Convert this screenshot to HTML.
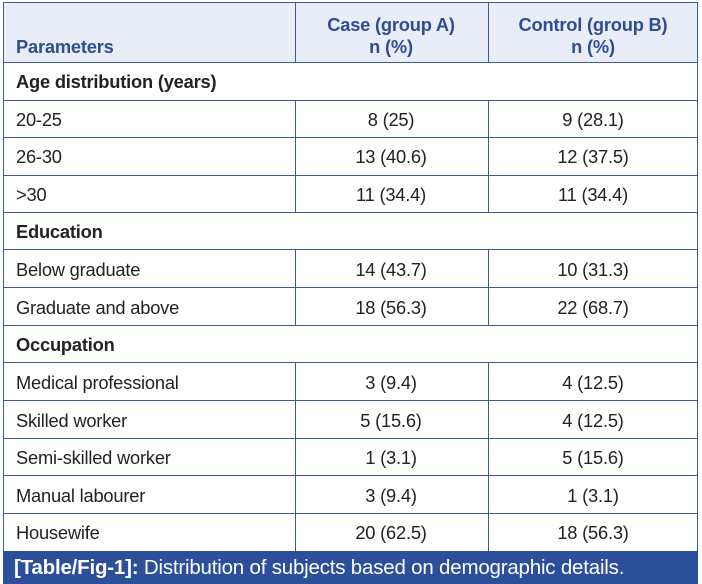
<!DOCTYPE html>
<html><head><meta charset="utf-8"><style>
body{margin:0;width:702px;height:584px;background:#fff;font-family:"Liberation Sans",sans-serif;overflow:hidden;position:relative}
.h{position:absolute;left:3px;top:2px;width:695px;height:60px;background:#e9edf7}
.hl{position:absolute;height:1px;background:#3c5a96;left:3px;width:695px}
.vl{position:absolute;width:1px;background:#3c5a96}
.t{position:absolute;font-size:18.3px;color:#222;white-space:nowrap;letter-spacing:-0.2px;margin-top:-1px}
.c{text-align:center;width:200px}
.b{font-weight:bold}
.hd{color:#2e4d92;font-weight:bold}
.cap{position:absolute;left:3px;top:551px;width:695px;height:33px;background:#2b4f9a;color:#fff;font-size:20.5px;line-height:33px;padding-left:11px;box-sizing:border-box;white-space:nowrap;letter-spacing:-0.2px}
</style></head><body>
<div class="h"></div>
<div class="hl" style="top:2px"></div>
<div class="hl" style="top:62px"></div>
<div class="hl" style="top:100px"></div>
<div class="hl" style="top:137px"></div>
<div class="hl" style="top:175px"></div>
<div class="hl" style="top:212px"></div>
<div class="hl" style="top:249px"></div>
<div class="hl" style="top:287px"></div>
<div class="hl" style="top:325px"></div>
<div class="hl" style="top:362px"></div>
<div class="hl" style="top:400px"></div>
<div class="hl" style="top:438px"></div>
<div class="hl" style="top:475px"></div>
<div class="hl" style="top:513px"></div>
<div class="vl" style="left:3px;top:2px;height:549px"></div>
<div class="vl" style="left:697px;top:2px;height:549px"></div>
<div class="vl" style="left:295px;top:2px;height:60px"></div>
<div class="vl" style="left:488px;top:2px;height:60px"></div>
<div class="vl" style="left:295px;top:100px;height:112px"></div>
<div class="vl" style="left:488px;top:100px;height:112px"></div>
<div class="vl" style="left:295px;top:249px;height:76px"></div>
<div class="vl" style="left:488px;top:249px;height:76px"></div>
<div class="vl" style="left:295px;top:362px;height:189px"></div>
<div class="vl" style="left:488px;top:362px;height:189px"></div>

<div class="t hd" style="left:16px;top:37px">Parameters</div>
<div class="t hd c" style="left:291px;top:15px">Case (group A)</div>
<div class="t hd c" style="left:291px;top:37px">n (%)</div>
<div class="t hd c" style="left:493px;top:15px">Control (group B)</div>
<div class="t hd c" style="left:493px;top:37px">n (%)</div>

<div class="t b" style="left:16px;top:72px">Age distribution (years)</div>
<div class="t" style="left:16px;top:110px">20-25</div><div class="t c" style="left:291px;top:110px">8 (25)</div><div class="t c" style="left:493px;top:110px">9 (28.1)</div>
<div class="t" style="left:16px;top:147px">26-30</div><div class="t c" style="left:291px;top:147px">13 (40.6)</div><div class="t c" style="left:493px;top:147px">12 (37.5)</div>
<div class="t" style="left:16px;top:185px">&gt;30</div><div class="t c" style="left:291px;top:185px">11 (34.4)</div><div class="t c" style="left:493px;top:185px">11 (34.4)</div>
<div class="t b" style="left:16px;top:222px">Education</div>
<div class="t" style="left:16px;top:260px">Below graduate</div><div class="t c" style="left:291px;top:260px">14 (43.7)</div><div class="t c" style="left:493px;top:260px">10 (31.3)</div>
<div class="t" style="left:16px;top:298px">Graduate and above</div><div class="t c" style="left:291px;top:298px">18 (56.3)</div><div class="t c" style="left:493px;top:298px">22 (68.7)</div>
<div class="t b" style="left:16px;top:335px">Occupation</div>
<div class="t" style="left:16px;top:373px">Medical professional</div><div class="t c" style="left:291px;top:373px">3 (9.4)</div><div class="t c" style="left:493px;top:373px">4 (12.5)</div>
<div class="t" style="left:16px;top:411px">Skilled worker</div><div class="t c" style="left:291px;top:411px">5 (15.6)</div><div class="t c" style="left:493px;top:411px">4 (12.5)</div>
<div class="t" style="left:16px;top:448px">Semi-skilled worker</div><div class="t c" style="left:291px;top:448px">1 (3.1)</div><div class="t c" style="left:493px;top:448px">5 (15.6)</div>
<div class="t" style="left:16px;top:486px">Manual labourer</div><div class="t c" style="left:291px;top:486px">3 (9.4)</div><div class="t c" style="left:493px;top:486px">1 (3.1)</div>
<div class="t" style="left:16px;top:523px">Housewife</div><div class="t c" style="left:291px;top:523px">20 (62.5)</div><div class="t c" style="left:493px;top:523px">18 (56.3)</div>

<div class="cap"><b>[Table/Fig-1]:</b> Distribution of subjects based on demographic details.</div>
</body></html>
